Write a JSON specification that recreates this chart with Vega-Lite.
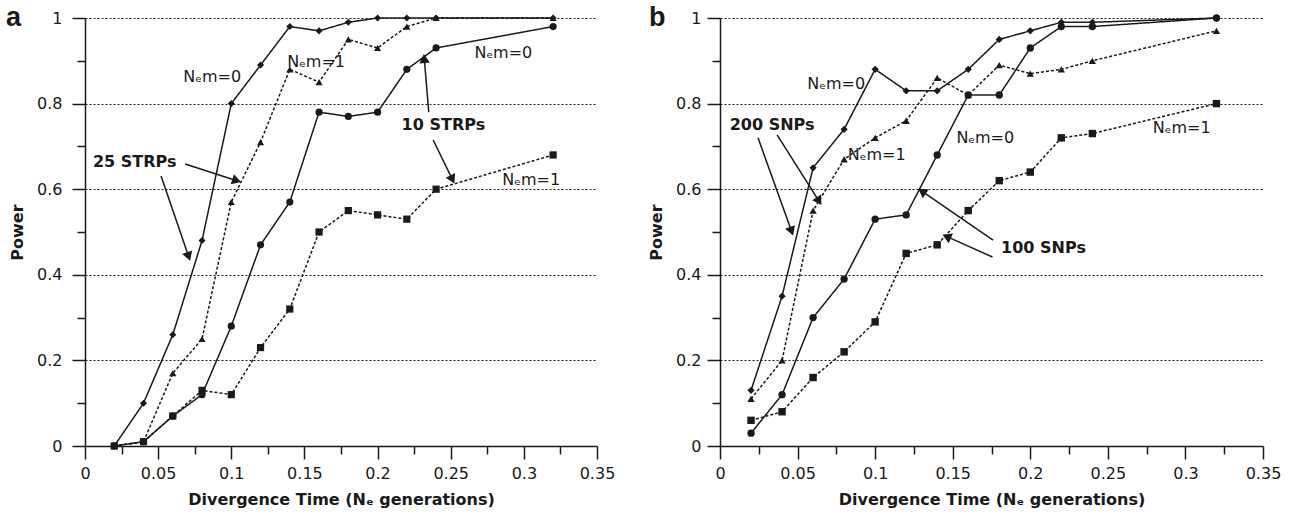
{
  "$schema": "https://vega.github.io/schema/vega-lite/v6.json",
  "background": "white",
  "padding": {"left": 6, "top": 4, "right": 5, "bottom": 2},
  "spacing": 33,
  "config": {
    "font": "DejaVu Sans",
    "view": {"stroke": null},
    "axis": {
      "domainColor": "#1a1a1a", "domainWidth": 1.5, "tickColor": "#1a1a1a", "tickWidth": 1.5,
      "labelFontSize": 16, "labelColor": "#1a1a1a", "labelFont": "DejaVu Sans",
      "titleFontSize": 16, "titleFontWeight": "bold", "titleColor": "#1a1a1a", "titleFont": "DejaVu Sans",
      "labelOverlap": false, "labelBound": false, "labelFlush": false
    },
    "title": {"font": "Liberation Sans", "fontSize": 27, "fontWeight": "bold", "color": "#1a1a1a", "anchor": "start", "frame": "group"}
  },
  "datasets": {
    "curves": [
      {"panel":"a","series":"25 STRPs, Nₑm=0","nem":"0","t":0.02,"power":0},
      {"panel":"a","series":"25 STRPs, Nₑm=0","nem":"0","t":0.04,"power":0.10},
      {"panel":"a","series":"25 STRPs, Nₑm=0","nem":"0","t":0.06,"power":0.26},
      {"panel":"a","series":"25 STRPs, Nₑm=0","nem":"0","t":0.08,"power":0.48},
      {"panel":"a","series":"25 STRPs, Nₑm=0","nem":"0","t":0.10,"power":0.80},
      {"panel":"a","series":"25 STRPs, Nₑm=0","nem":"0","t":0.12,"power":0.89},
      {"panel":"a","series":"25 STRPs, Nₑm=0","nem":"0","t":0.14,"power":0.98},
      {"panel":"a","series":"25 STRPs, Nₑm=0","nem":"0","t":0.16,"power":0.97},
      {"panel":"a","series":"25 STRPs, Nₑm=0","nem":"0","t":0.18,"power":0.99},
      {"panel":"a","series":"25 STRPs, Nₑm=0","nem":"0","t":0.20,"power":1.0},
      {"panel":"a","series":"25 STRPs, Nₑm=0","nem":"0","t":0.22,"power":1.0},
      {"panel":"a","series":"25 STRPs, Nₑm=0","nem":"0","t":0.24,"power":1.0},
      {"panel":"a","series":"25 STRPs, Nₑm=0","nem":"0","t":0.32,"power":1.0},
      {"panel":"a","series":"25 STRPs, Nₑm=1","nem":"1","t":0.02,"power":0},
      {"panel":"a","series":"25 STRPs, Nₑm=1","nem":"1","t":0.04,"power":0.01},
      {"panel":"a","series":"25 STRPs, Nₑm=1","nem":"1","t":0.06,"power":0.17},
      {"panel":"a","series":"25 STRPs, Nₑm=1","nem":"1","t":0.08,"power":0.25},
      {"panel":"a","series":"25 STRPs, Nₑm=1","nem":"1","t":0.10,"power":0.57},
      {"panel":"a","series":"25 STRPs, Nₑm=1","nem":"1","t":0.12,"power":0.71},
      {"panel":"a","series":"25 STRPs, Nₑm=1","nem":"1","t":0.14,"power":0.88},
      {"panel":"a","series":"25 STRPs, Nₑm=1","nem":"1","t":0.16,"power":0.85},
      {"panel":"a","series":"25 STRPs, Nₑm=1","nem":"1","t":0.18,"power":0.95},
      {"panel":"a","series":"25 STRPs, Nₑm=1","nem":"1","t":0.20,"power":0.93},
      {"panel":"a","series":"25 STRPs, Nₑm=1","nem":"1","t":0.22,"power":0.98},
      {"panel":"a","series":"25 STRPs, Nₑm=1","nem":"1","t":0.24,"power":1.0},
      {"panel":"a","series":"25 STRPs, Nₑm=1","nem":"1","t":0.32,"power":1.0},
      {"panel":"a","series":"10 STRPs, Nₑm=0","nem":"0","t":0.02,"power":0},
      {"panel":"a","series":"10 STRPs, Nₑm=0","nem":"0","t":0.04,"power":0.01},
      {"panel":"a","series":"10 STRPs, Nₑm=0","nem":"0","t":0.06,"power":0.07},
      {"panel":"a","series":"10 STRPs, Nₑm=0","nem":"0","t":0.08,"power":0.12},
      {"panel":"a","series":"10 STRPs, Nₑm=0","nem":"0","t":0.10,"power":0.28},
      {"panel":"a","series":"10 STRPs, Nₑm=0","nem":"0","t":0.12,"power":0.47},
      {"panel":"a","series":"10 STRPs, Nₑm=0","nem":"0","t":0.14,"power":0.57},
      {"panel":"a","series":"10 STRPs, Nₑm=0","nem":"0","t":0.16,"power":0.78},
      {"panel":"a","series":"10 STRPs, Nₑm=0","nem":"0","t":0.18,"power":0.77},
      {"panel":"a","series":"10 STRPs, Nₑm=0","nem":"0","t":0.20,"power":0.78},
      {"panel":"a","series":"10 STRPs, Nₑm=0","nem":"0","t":0.22,"power":0.88},
      {"panel":"a","series":"10 STRPs, Nₑm=0","nem":"0","t":0.24,"power":0.93},
      {"panel":"a","series":"10 STRPs, Nₑm=0","nem":"0","t":0.32,"power":0.98},
      {"panel":"a","series":"10 STRPs, Nₑm=1","nem":"1","t":0.02,"power":0},
      {"panel":"a","series":"10 STRPs, Nₑm=1","nem":"1","t":0.04,"power":0.01},
      {"panel":"a","series":"10 STRPs, Nₑm=1","nem":"1","t":0.06,"power":0.07},
      {"panel":"a","series":"10 STRPs, Nₑm=1","nem":"1","t":0.08,"power":0.13},
      {"panel":"a","series":"10 STRPs, Nₑm=1","nem":"1","t":0.10,"power":0.12},
      {"panel":"a","series":"10 STRPs, Nₑm=1","nem":"1","t":0.12,"power":0.23},
      {"panel":"a","series":"10 STRPs, Nₑm=1","nem":"1","t":0.14,"power":0.32},
      {"panel":"a","series":"10 STRPs, Nₑm=1","nem":"1","t":0.16,"power":0.50},
      {"panel":"a","series":"10 STRPs, Nₑm=1","nem":"1","t":0.18,"power":0.55},
      {"panel":"a","series":"10 STRPs, Nₑm=1","nem":"1","t":0.20,"power":0.54},
      {"panel":"a","series":"10 STRPs, Nₑm=1","nem":"1","t":0.22,"power":0.53},
      {"panel":"a","series":"10 STRPs, Nₑm=1","nem":"1","t":0.24,"power":0.60},
      {"panel":"a","series":"10 STRPs, Nₑm=1","nem":"1","t":0.32,"power":0.68},
      {"panel":"b","series":"200 SNPs, Nₑm=0","nem":"0","t":0.02,"power":0.13},
      {"panel":"b","series":"200 SNPs, Nₑm=0","nem":"0","t":0.04,"power":0.35},
      {"panel":"b","series":"200 SNPs, Nₑm=0","nem":"0","t":0.06,"power":0.65},
      {"panel":"b","series":"200 SNPs, Nₑm=0","nem":"0","t":0.08,"power":0.74},
      {"panel":"b","series":"200 SNPs, Nₑm=0","nem":"0","t":0.10,"power":0.88},
      {"panel":"b","series":"200 SNPs, Nₑm=0","nem":"0","t":0.12,"power":0.83},
      {"panel":"b","series":"200 SNPs, Nₑm=0","nem":"0","t":0.14,"power":0.83},
      {"panel":"b","series":"200 SNPs, Nₑm=0","nem":"0","t":0.16,"power":0.88},
      {"panel":"b","series":"200 SNPs, Nₑm=0","nem":"0","t":0.18,"power":0.95},
      {"panel":"b","series":"200 SNPs, Nₑm=0","nem":"0","t":0.20,"power":0.97},
      {"panel":"b","series":"200 SNPs, Nₑm=0","nem":"0","t":0.22,"power":0.99},
      {"panel":"b","series":"200 SNPs, Nₑm=0","nem":"0","t":0.24,"power":0.99},
      {"panel":"b","series":"200 SNPs, Nₑm=0","nem":"0","t":0.32,"power":1.0},
      {"panel":"b","series":"200 SNPs, Nₑm=1","nem":"1","t":0.02,"power":0.11},
      {"panel":"b","series":"200 SNPs, Nₑm=1","nem":"1","t":0.04,"power":0.20},
      {"panel":"b","series":"200 SNPs, Nₑm=1","nem":"1","t":0.06,"power":0.55},
      {"panel":"b","series":"200 SNPs, Nₑm=1","nem":"1","t":0.08,"power":0.67},
      {"panel":"b","series":"200 SNPs, Nₑm=1","nem":"1","t":0.10,"power":0.72},
      {"panel":"b","series":"200 SNPs, Nₑm=1","nem":"1","t":0.12,"power":0.76},
      {"panel":"b","series":"200 SNPs, Nₑm=1","nem":"1","t":0.14,"power":0.86},
      {"panel":"b","series":"200 SNPs, Nₑm=1","nem":"1","t":0.16,"power":0.82},
      {"panel":"b","series":"200 SNPs, Nₑm=1","nem":"1","t":0.18,"power":0.89},
      {"panel":"b","series":"200 SNPs, Nₑm=1","nem":"1","t":0.20,"power":0.87},
      {"panel":"b","series":"200 SNPs, Nₑm=1","nem":"1","t":0.22,"power":0.88},
      {"panel":"b","series":"200 SNPs, Nₑm=1","nem":"1","t":0.24,"power":0.90},
      {"panel":"b","series":"200 SNPs, Nₑm=1","nem":"1","t":0.32,"power":0.97},
      {"panel":"b","series":"100 SNPs, Nₑm=0","nem":"0","t":0.02,"power":0.03},
      {"panel":"b","series":"100 SNPs, Nₑm=0","nem":"0","t":0.04,"power":0.12},
      {"panel":"b","series":"100 SNPs, Nₑm=0","nem":"0","t":0.06,"power":0.30},
      {"panel":"b","series":"100 SNPs, Nₑm=0","nem":"0","t":0.08,"power":0.39},
      {"panel":"b","series":"100 SNPs, Nₑm=0","nem":"0","t":0.10,"power":0.53},
      {"panel":"b","series":"100 SNPs, Nₑm=0","nem":"0","t":0.12,"power":0.54},
      {"panel":"b","series":"100 SNPs, Nₑm=0","nem":"0","t":0.14,"power":0.68},
      {"panel":"b","series":"100 SNPs, Nₑm=0","nem":"0","t":0.16,"power":0.82},
      {"panel":"b","series":"100 SNPs, Nₑm=0","nem":"0","t":0.18,"power":0.82},
      {"panel":"b","series":"100 SNPs, Nₑm=0","nem":"0","t":0.20,"power":0.93},
      {"panel":"b","series":"100 SNPs, Nₑm=0","nem":"0","t":0.22,"power":0.98},
      {"panel":"b","series":"100 SNPs, Nₑm=0","nem":"0","t":0.24,"power":0.98},
      {"panel":"b","series":"100 SNPs, Nₑm=0","nem":"0","t":0.32,"power":1.0},
      {"panel":"b","series":"100 SNPs, Nₑm=1","nem":"1","t":0.02,"power":0.06},
      {"panel":"b","series":"100 SNPs, Nₑm=1","nem":"1","t":0.04,"power":0.08},
      {"panel":"b","series":"100 SNPs, Nₑm=1","nem":"1","t":0.06,"power":0.16},
      {"panel":"b","series":"100 SNPs, Nₑm=1","nem":"1","t":0.08,"power":0.22},
      {"panel":"b","series":"100 SNPs, Nₑm=1","nem":"1","t":0.10,"power":0.29},
      {"panel":"b","series":"100 SNPs, Nₑm=1","nem":"1","t":0.12,"power":0.45},
      {"panel":"b","series":"100 SNPs, Nₑm=1","nem":"1","t":0.14,"power":0.47},
      {"panel":"b","series":"100 SNPs, Nₑm=1","nem":"1","t":0.16,"power":0.55},
      {"panel":"b","series":"100 SNPs, Nₑm=1","nem":"1","t":0.18,"power":0.62},
      {"panel":"b","series":"100 SNPs, Nₑm=1","nem":"1","t":0.20,"power":0.64},
      {"panel":"b","series":"100 SNPs, Nₑm=1","nem":"1","t":0.22,"power":0.72},
      {"panel":"b","series":"100 SNPs, Nₑm=1","nem":"1","t":0.24,"power":0.73},
      {"panel":"b","series":"100 SNPs, Nₑm=1","nem":"1","t":0.32,"power":0.80}
    ],
    "nemLabels": [
      {"panel":"a","label":"Nₑm=0","t":0.087,"power":0.862},
      {"panel":"a","label":"Nₑm=1","t":0.158,"power":0.897},
      {"panel":"a","label":"Nₑm=0","t":0.286,"power":0.918},
      {"panel":"a","label":"Nₑm=1","t":0.305,"power":0.621},
      {"panel":"b","label":"Nₑm=0","t":0.0749,"power":0.846},
      {"panel":"b","label":"Nₑm=1","t":0.101,"power":0.680},
      {"panel":"b","label":"Nₑm=0","t":0.171,"power":0.720},
      {"panel":"b","label":"Nₑm=1","t":0.2976,"power":0.743}
    ],
    "lociLabels": [
      {"panel":"a","label":"25 STRPs","t":0.034,"power":0.664},
      {"panel":"a","label":"10 STRPs","t":0.245,"power":0.750},
      {"panel":"b","label":"200 SNPs","t":0.0336,"power":0.750},
      {"panel":"b","label":"100 SNPs","t":0.2085,"power":0.4626}
    ],
    "arrows": [
      {"panel":"a","t":0.0685,"power":0.659,"t2":0.1027,"power2":0.621},
      {"panel":"a","t":0.052,"power":0.631,"t2":0.0705,"power2":0.446},
      {"panel":"a","t":0.235,"power":0.780,"t2":0.232,"power2":0.902},
      {"panel":"a","t":0.238,"power":0.715,"t2":0.2507,"power2":0.626},
      {"panel":"b","t":0.0245,"power":0.720,"t2":0.0458,"power2":0.505},
      {"panel":"b","t":0.0368,"power":0.727,"t2":0.0633,"power2":0.575},
      {"panel":"b","t":0.176,"power":0.481,"t2":0.131,"power2":0.593},
      {"panel":"b","t":0.1756,"power":0.4416,"t2":0.147,"power2":0.488}
    ]
  },
  "hconcat": [
    {
      "width": 512, "height": 428,
      "title": {"text": "a", "dx": -79, "offset": -22},
      "resolve": {"axis": {"x": "independent", "y": "independent"}},
      "layer": [
        {
          "data": {"name": "curves"},
          "transform": [{"filter": "datum.panel === 'a'"}],
          "mark": {"type": "line", "color": "#1a1a1a", "strokeWidth": 1.5},
          "encoding": {
            "x": {"field": "t", "type": "quantitative", "title": "Divergence Time (Nₑ generations)",
              "scale": {"domain": [0, 0.35], "nice": false, "zero": true},
              "axis": {"orient": "bottom", "values": [0,0.05,0.1,0.15,0.2,0.25,0.3,0.35], "format": ".2~f",
                "tickSize": 13, "grid": false, "labelPadding": 6, "titlePadding": 10}},
            "y": {"field": "power", "type": "quantitative", "title": "Power",
              "scale": {"domain": [0, 1], "nice": false},
              "axis": {"orient": "left", "values": [0,0.2,0.4,0.6,0.8,1], "format": ".1~f",
                "tickSize": 13, "grid": true, "gridColor": "#1a1a1a", "gridDash": [2, 2], "gridWidth": 1,
                "gridOpacity": {"condition": {"test": "datum.value > 0.01", "value": 1}, "value": 0},
                "labelPadding": 10, "titlePadding": 11}},
            "detail": {"field": "series", "type": "nominal"},
            "strokeDash": {"field": "nem", "type": "nominal", "scale": {"domain": ["0", "1"], "range": [[1, 0], [3, 2]]}, "legend": null}
          }
        },
        {
          "data": {"name": "curves"},
          "transform": [{"filter": "datum.panel === 'a'"}],
          "mark": {"type": "point", "filled": true, "color": "#1a1a1a", "opacity": 1},
          "encoding": {
            "x": {"field": "t", "type": "quantitative",
              "axis": {"orient": "bottom", "values": [0.025,0.075,0.125,0.175,0.225,0.275,0.325], "tickSize": 8, "labels": false, "domain": false, "grid": false, "title": null}},
            "y": {"field": "power", "type": "quantitative",
              "axis": {"orient": "left", "values": [0.1,0.3,0.5,0.7,0.9], "tickSize": 8, "labels": false, "domain": false, "grid": false, "title": null}},
            "shape": {"field": "series", "type": "nominal", "legend": null,
              "scale": {"domain": ["25 STRPs, Nₑm=0","25 STRPs, Nₑm=1","10 STRPs, Nₑm=0","10 STRPs, Nₑm=1","200 SNPs, Nₑm=0","200 SNPs, Nₑm=1","100 SNPs, Nₑm=0","100 SNPs, Nₑm=1"],
                "range": ["diamond","triangle-up","circle","square","diamond","triangle-up","circle","square"]}},
            "size": {"field": "series", "type": "nominal", "legend": null,
              "scale": {"domain": ["25 STRPs, Nₑm=0","25 STRPs, Nₑm=1","10 STRPs, Nₑm=0","10 STRPs, Nₑm=1","200 SNPs, Nₑm=0","200 SNPs, Nₑm=1","100 SNPs, Nₑm=0","100 SNPs, Nₑm=1"],
                "range": [50, 55, 75, 115, 50, 55, 75, 115]}}
          }
        },
        {
          "data": {"name": "arrows"},
          "transform": [{"filter": "datum.panel === 'a'"}],
          "mark": {"type": "rule", "color": "#1a1a1a", "strokeWidth": 1.5},
          "encoding": {
            "x": {"field": "t", "type": "quantitative", "axis": null},
            "y": {"field": "power", "type": "quantitative", "axis": null},
            "x2": {"field": "t2"},
            "y2": {"field": "power2"}
          }
        },
        {
          "data": {"name": "arrows"},
          "transform": [{"filter": "datum.panel === 'a'"},
            {"calculate": "atan2((datum.t2-datum.t)*1460, (datum.power2-datum.power)*428)*180/PI", "as": "heading"}],
          "mark": {"type": "point", "shape": "triangle", "filled": true, "color": "#1a1a1a", "fill": "#1a1a1a", "opacity": 1, "size": 110},
          "encoding": {
            "x": {"field": "t2", "type": "quantitative", "axis": null},
            "y": {"field": "power2", "type": "quantitative", "axis": null},
            "angle": {"field": "heading", "type": "quantitative", "scale": null}
          }
        },
        {
          "data": {"name": "nemLabels"},
          "transform": [{"filter": "datum.panel === 'a'"}],
          "mark": {"type": "text", "font": "DejaVu Sans", "fontSize": 16, "color": "#1a1a1a", "align": "center", "baseline": "middle"},
          "encoding": {
            "x": {"field": "t", "type": "quantitative", "axis": null},
            "y": {"field": "power", "type": "quantitative", "axis": null},
            "text": {"field": "label"}
          }
        },
        {
          "data": {"name": "lociLabels"},
          "transform": [{"filter": "datum.panel === 'a'"}],
          "mark": {"type": "text", "font": "DejaVu Sans", "fontSize": 16, "fontWeight": "bold", "color": "#1a1a1a", "align": "center", "baseline": "middle"},
          "encoding": {
            "x": {"field": "t", "type": "quantitative", "axis": null},
            "y": {"field": "power", "type": "quantitative", "axis": null},
            "text": {"field": "label"}
          }
        }
      ]
    },
    {
      "width": 543, "height": 428,
      "title": {"text": "b", "dx": -71, "offset": -22},
      "resolve": {"axis": {"x": "independent", "y": "independent"}},
      "layer": [
        {
          "data": {"name": "curves"},
          "transform": [{"filter": "datum.panel === 'b'"}],
          "mark": {"type": "line", "color": "#1a1a1a", "strokeWidth": 1.5},
          "encoding": {
            "x": {"field": "t", "type": "quantitative", "title": "Divergence Time (Nₑ generations)",
              "scale": {"domain": [0, 0.35], "nice": false, "zero": true},
              "axis": {"orient": "bottom", "values": [0,0.05,0.1,0.15,0.2,0.25,0.3,0.35], "format": ".2~f",
                "tickSize": 13, "grid": false, "labelPadding": 6, "titlePadding": 10}},
            "y": {"field": "power", "type": "quantitative", "title": "Power",
              "scale": {"domain": [0, 1], "nice": false},
              "axis": {"orient": "left", "values": [0,0.2,0.4,0.6,0.8,1], "format": ".1~f",
                "tickSize": 13, "grid": true, "gridColor": "#1a1a1a", "gridDash": [2, 2], "gridWidth": 1,
                "gridOpacity": {"condition": {"test": "datum.value > 0.01", "value": 1}, "value": 0},
                "labelPadding": 6, "titlePadding": 11}},
            "detail": {"field": "series", "type": "nominal"},
            "strokeDash": {"field": "nem", "type": "nominal", "scale": {"domain": ["0", "1"], "range": [[1, 0], [3, 2]]}, "legend": null}
          }
        },
        {
          "data": {"name": "curves"},
          "transform": [{"filter": "datum.panel === 'b'"}],
          "mark": {"type": "point", "filled": true, "color": "#1a1a1a", "opacity": 1},
          "encoding": {
            "x": {"field": "t", "type": "quantitative",
              "axis": {"orient": "bottom", "values": [0.025,0.075,0.125,0.175,0.225,0.275,0.325], "tickSize": 8, "labels": false, "domain": false, "grid": false, "title": null}},
            "y": {"field": "power", "type": "quantitative",
              "axis": {"orient": "left", "values": [0.1,0.3,0.5,0.7,0.9], "tickSize": 8, "labels": false, "domain": false, "grid": false, "title": null}},
            "shape": {"field": "series", "type": "nominal", "legend": null,
              "scale": {"domain": ["25 STRPs, Nₑm=0","25 STRPs, Nₑm=1","10 STRPs, Nₑm=0","10 STRPs, Nₑm=1","200 SNPs, Nₑm=0","200 SNPs, Nₑm=1","100 SNPs, Nₑm=0","100 SNPs, Nₑm=1"],
                "range": ["diamond","triangle-up","circle","square","diamond","triangle-up","circle","square"]}},
            "size": {"field": "series", "type": "nominal", "legend": null,
              "scale": {"domain": ["25 STRPs, Nₑm=0","25 STRPs, Nₑm=1","10 STRPs, Nₑm=0","10 STRPs, Nₑm=1","200 SNPs, Nₑm=0","200 SNPs, Nₑm=1","100 SNPs, Nₑm=0","100 SNPs, Nₑm=1"],
                "range": [50, 55, 75, 115, 50, 55, 75, 115]}}
          }
        },
        {
          "data": {"name": "arrows"},
          "transform": [{"filter": "datum.panel === 'b'"}],
          "mark": {"type": "rule", "color": "#1a1a1a", "strokeWidth": 1.5},
          "encoding": {
            "x": {"field": "t", "type": "quantitative", "axis": null},
            "y": {"field": "power", "type": "quantitative", "axis": null},
            "x2": {"field": "t2"},
            "y2": {"field": "power2"}
          }
        },
        {
          "data": {"name": "arrows"},
          "transform": [{"filter": "datum.panel === 'b'"},
            {"calculate": "atan2((datum.t2-datum.t)*1549, (datum.power2-datum.power)*428)*180/PI", "as": "heading"}],
          "mark": {"type": "point", "shape": "triangle", "filled": true, "color": "#1a1a1a", "fill": "#1a1a1a", "opacity": 1, "size": 110},
          "encoding": {
            "x": {"field": "t2", "type": "quantitative", "axis": null},
            "y": {"field": "power2", "type": "quantitative", "axis": null},
            "angle": {"field": "heading", "type": "quantitative", "scale": null}
          }
        },
        {
          "data": {"name": "nemLabels"},
          "transform": [{"filter": "datum.panel === 'b'"}],
          "mark": {"type": "text", "font": "DejaVu Sans", "fontSize": 16, "color": "#1a1a1a", "align": "center", "baseline": "middle"},
          "encoding": {
            "x": {"field": "t", "type": "quantitative", "axis": null},
            "y": {"field": "power", "type": "quantitative", "axis": null},
            "text": {"field": "label"}
          }
        },
        {
          "data": {"name": "lociLabels"},
          "transform": [{"filter": "datum.panel === 'b'"}],
          "mark": {"type": "text", "font": "DejaVu Sans", "fontSize": 16, "fontWeight": "bold", "color": "#1a1a1a", "align": "center", "baseline": "middle"},
          "encoding": {
            "x": {"field": "t", "type": "quantitative", "axis": null},
            "y": {"field": "power", "type": "quantitative", "axis": null},
            "text": {"field": "label"}
          }
        }
      ]
    }
  ]
}
